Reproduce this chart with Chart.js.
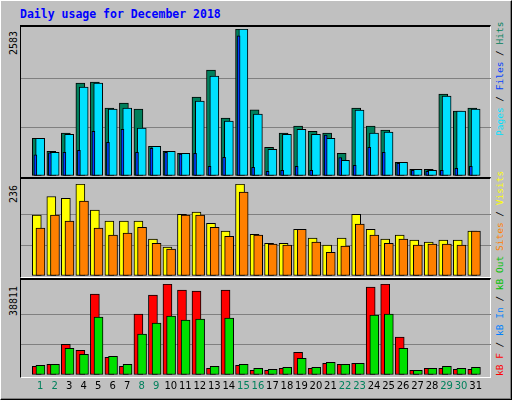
<!DOCTYPE html>
<html><head><meta charset="utf-8">
<script src="https://cdn.jsdelivr.net/npm/chart.js@4"></script>
<style>
body{margin:0;background:#fff}
#frame{position:absolute;left:0;top:0;width:510px;height:398px;background:#C0C0C0;border-top:1px solid #fff;border-left:1px solid #fff;border-right:1px solid #000;border-bottom:1px solid #000;box-shadow:inset -1px -1px 0 #808080}
.panel{position:absolute;left:20px;width:469px;background:#C0C0C0;border-top:2px solid #000;border-left:1px solid #000;border-right:1px solid #fff;border-bottom:1px solid #fff}
canvas{position:absolute}
.t{position:absolute;font-family:"DejaVu Sans Mono",monospace;white-space:nowrap}
.rot{position:absolute;font-family:"DejaVu Sans Mono",monospace;font-size:9.5px;white-space:nowrap;transform-origin:0 0;transform:rotate(-90deg)}
</style></head><body>
<div id="frame"></div>
<div class="panel" style="top:25px;height:150px"></div>
<div class="panel" style="top:177px;height:98px"></div>
<div class="panel" style="top:278px;height:97px"></div>
<div class="t" style="left:20px;top:7px;font-size:11.5px;font-weight:bold;color:#0000ff">Daily usage for December 2018</div>
<div class="rot" style="left:8px;top:55px;font-size:10px;color:#000">2583</div>
<div class="rot" style="left:8px;top:203px;font-size:10px;color:#000">236</div>
<div class="rot" style="left:8px;top:316px;font-size:10px;color:#000">38811</div>
<div class="rot" style="left:494px;top:136px"><span style="color:#00e0ff">Pages</span> / <span style="color:#0040ff">Files</span> / <span style="color:#00805c">Hits</span></div>
<div class="rot" style="left:494px;top:251px"><span style="color:#ff8000">Sites</span> / <span style="color:#ffff00">Visits</span></div>
<div class="rot" style="left:494px;top:376px"><span style="color:#ff0000">kB F</span> / <span style="color:#0080ff">kB In</span> / <span style="color:#00c000">kB Out</span></div>
<canvas id="c1" style="left:21px;top:27px;width:470px;height:149px"></canvas>
<canvas id="c2" style="left:21px;top:180px;width:470px;height:96px"></canvas>
<canvas id="c3" style="left:21px;top:280px;width:470px;height:117px"></canvas>
<script>
const days = [1,2,3,4,5,6,7,8,9,10,11,12,13,14,15,16,17,18,19,20,21,22,23,24,25,26,27,28,29,30,31];
const dayLabels = days.map(String);
const weekendDays = [1,2,8,9,15,16,22,23,29,30];
const maxHits = 2583, maxVisits = 236, maxKB = 38811;
const hits  = [664,435,752,1632,1650,1192,1280,1175,523,435,400,1386,1861,1016,2583,1162,505,752,875,787,752,400,1192,875,805,241,118,118,1439,1139,1192];
const files = [664,417,734,1562,1632,1175,1192,840,523,435,400,1315,1756,963,2583,1087,470,734,822,734,664,276,1157,752,770,241,118,100,1403,1139,1175];
const pages = [370,405,417,453,787,593,822,417,488,417,387,400,171,329,2465,153,83,100,171,100,717,322,188,505,417,224,100,83,100,135,171];
const visits= [156,204,199,236,169,141,141,141,95,74,158,164,135,115,236,107,84,84,120,97,79,97,158,120,95,105,92,87,92,92,115];
const sites = [123,156,141,192,123,105,110,125,84,69,156,156,125,102,215,105,82,79,120,87,61,77,133,105,84,95,79,82,82,79,115];
const kbF   = [3710,4566,13127,10559,34530,7562,3710,25969,34102,38811,36243,35815,2854,36243,4138,1998,1998,2854,9703,2854,4994,4566,4994,37527,38811,16124,1998,2854,2854,2426,2426];
const kbOut = [4138,4566,11415,8847,24685,7990,4566,17408,22117,25113,23401,23829,3710,24257,4566,2854,2426,3282,7134,3282,5422,4566,4994,25541,25969,11415,1998,2854,3710,2854,3282];

const XMIN = 0.433, XMAX = XMIN + 470/15;
function ds(vals, off, w, color, order){
  return {data: vals.map((v,i)=>({x:days[i]+off,y:v})), backgroundColor:color, borderColor:'#000',
    borderWidth:1, borderSkipped:false, barThickness:w, grouped:false, order:order};
}
function make(id, datasets, max, padTop, showX){
  new Chart(document.getElementById(id), {
    type:'bar', data:{datasets},
    options:{responsive:false, animation:false, devicePixelRatio:1,
      layout:{padding:{top:padTop,left:0,right:0,bottom:0}},
      plugins:{legend:{display:false}, tooltip:{enabled:false}},
      scales:{
        x:{type:'linear', min:XMIN, max:XMAX, display:showX,
          grid:{display:false, drawTicks:false}, border:{display:false},
          afterBuildTicks:s=>{s.ticks = days.map(d=>({value:d+0.23}));},
          afterFit:s=>{ if(showX) s.height = 22; s.paddingLeft = 0; s.paddingRight = 0; },
          ticks:{autoSkip:false, maxRotation:0, padding:5,
            font:{family:'DejaVu Sans', size:10},
            color:c=>weekendDays.includes(days[c.index])?'#00805c':'#000',
            callback:(v,i)=>dayLabels[i]}},
        y:{min:0, max:max, display:true,
          afterFit:s=>{s.width = 0; s.paddingTop = 0; s.paddingBottom = 0;},
          afterBuildTicks:s=>{s.ticks=[0,max/3,2*max/3,max].map(v=>({value:v}));},
          ticks:{display:false}, border:{display:false},
          grid:{drawTicks:false, color:c=>(c.index===1||c.index===2)?'#808080':'rgba(0,0,0,0)', lineWidth:1}}
      }}
  });
}
['c1','c2','c3'].forEach(id=>{const c=document.getElementById(id);c.width=parseInt(c.style.width);c.height=parseInt(c.style.height);});
make('c1',[ds(pages,-0.1,3,'#0040ff',0), ds(files,0.23,9,'#00e0ff',1), ds(hits,0,9,'#00805c',2)], maxHits, 2, false);
make('c2',[ds(sites,0.25,9,'#ff8000',0), ds(visits,0,9,'#ffff00',1)], maxVisits, 4, false);
make('c3',[ds(kbOut,0.25,9,'#00e000',0), ds(kbF,0,9,'#ff0000',1)], maxKB, 4, true);
</script>
</body></html>
